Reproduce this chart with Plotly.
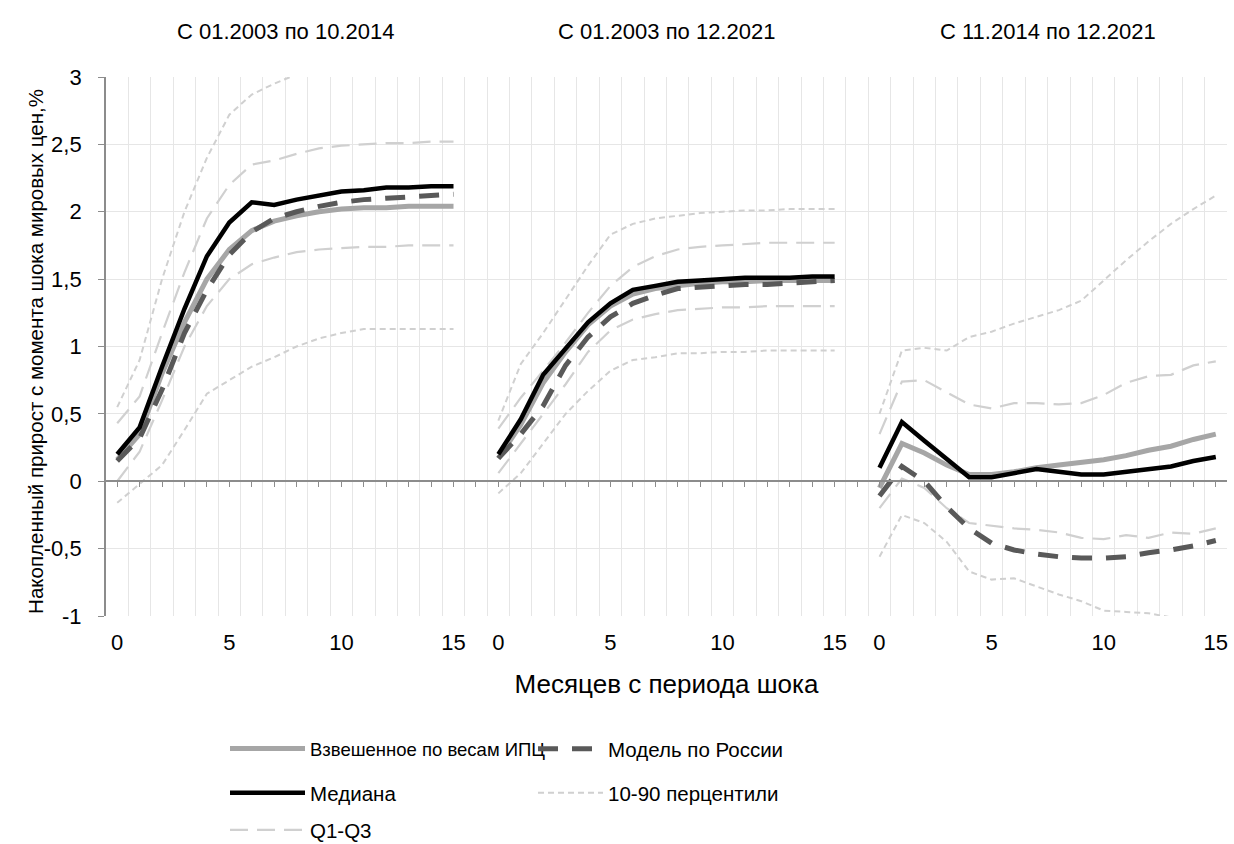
import plotly.graph_objects as go

FONT = "Liberation Sans, Arial, sans-serif"

months = list(range(16))
panel_titles = ["С 01.2003 по 10.2014", "С 01.2003 по 12.2021", "С 11.2014 по 12.2021"]
tick_labels = ["0", "5", "10", "15"]
y_ticks = [-1, -0.5, 0, 0.5, 1, 1.5, 2, 2.5, 3]
y_tick_labels = ["-1", "-0,5", "0", "0,5", "1", "1,5", "2", "2,5", "3"]

# Взвешенное по весам ИПЦ
weighted_p1 = [0.16, 0.35, 0.80, 1.18, 1.50, 1.72, 1.86, 1.93, 1.97, 2.00, 2.02, 2.03, 2.03, 2.04, 2.04, 2.04]
weighted_p2 = [0.17, 0.42, 0.73, 0.96, 1.16, 1.30, 1.39, 1.43, 1.45, 1.47, 1.48, 1.48, 1.49, 1.49, 1.49, 1.49]
weighted_p3 = [-0.05, 0.28, 0.21, 0.12, 0.05, 0.05, 0.07, 0.10, 0.12, 0.14, 0.16, 0.19, 0.23, 0.26, 0.31, 0.35]

# Модель по России
model_p1 = [0.15, 0.32, 0.68, 1.10, 1.42, 1.68, 1.85, 1.95, 2.00, 2.04, 2.07, 2.09, 2.10, 2.11, 2.12, 2.13]
model_p2 = [0.17, 0.35, 0.56, 0.86, 1.07, 1.22, 1.32, 1.38, 1.43, 1.44, 1.45, 1.46, 1.46, 1.47, 1.48, 1.49]
model_p3 = [-0.11, 0.11, 0.00, -0.19, -0.35, -0.46, -0.51, -0.54, -0.56, -0.57, -0.57, -0.56, -0.53, -0.51, -0.48, -0.44]

# Медиана
median_p1 = [0.20, 0.40, 0.85, 1.28, 1.67, 1.92, 2.07, 2.05, 2.09, 2.12, 2.15, 2.16, 2.18, 2.18, 2.19, 2.19]
median_p2 = [0.20, 0.46, 0.79, 0.98, 1.18, 1.32, 1.42, 1.45, 1.48, 1.49, 1.50, 1.51, 1.51, 1.51, 1.52, 1.52]
median_p3 = [0.10, 0.44, 0.30, 0.17, 0.03, 0.03, 0.06, 0.09, 0.07, 0.05, 0.05, 0.07, 0.09, 0.11, 0.15, 0.18]

# 10-90 перцентили
p10_p1 = [-0.16, -0.02, 0.12, 0.38, 0.65, 0.75, 0.85, 0.92, 1.00, 1.06, 1.10, 1.13, 1.13, 1.13, 1.13, 1.13]
p90_p1 = [0.55, 0.90, 1.50, 2.00, 2.40, 2.72, 2.87, 2.95, 3.02, 3.05, 3.07, 3.09, 3.10, 3.11, 3.12, 3.12]
p10_p2 = [-0.09, 0.06, 0.28, 0.50, 0.67, 0.82, 0.90, 0.92, 0.95, 0.95, 0.96, 0.96, 0.97, 0.97, 0.97, 0.97]
p90_p2 = [0.45, 0.87, 1.10, 1.35, 1.60, 1.83, 1.91, 1.95, 1.97, 1.99, 2.00, 2.01, 2.01, 2.02, 2.02, 2.02]
p10_p3 = [-0.56, -0.25, -0.31, -0.45, -0.67, -0.73, -0.72, -0.78, -0.84, -0.89, -0.96, -0.97, -0.98, -1.01, -1.05, -1.08]
p90_p3 = [0.50, 0.97, 0.99, 0.97, 1.07, 1.11, 1.17, 1.22, 1.27, 1.34, 1.49, 1.64, 1.78, 1.91, 2.02, 2.12]

# Q1-Q3
q1_p1 = [0.00, 0.22, 0.60, 1.00, 1.30, 1.50, 1.61, 1.66, 1.70, 1.72, 1.73, 1.74, 1.74, 1.75, 1.75, 1.75]
q3_p1 = [0.43, 0.63, 1.10, 1.55, 1.95, 2.20, 2.35, 2.38, 2.43, 2.47, 2.49, 2.50, 2.51, 2.51, 2.52, 2.52]
q1_p2 = [0.06, 0.28, 0.50, 0.72, 0.96, 1.12, 1.20, 1.24, 1.27, 1.28, 1.29, 1.29, 1.30, 1.30, 1.30, 1.30]
q3_p2 = [0.39, 0.62, 0.82, 1.03, 1.25, 1.45, 1.59, 1.67, 1.72, 1.74, 1.75, 1.76, 1.77, 1.77, 1.77, 1.77]
q1_p3 = [-0.20, 0.02, -0.05, -0.20, -0.31, -0.33, -0.35, -0.36, -0.38, -0.42, -0.43, -0.40, -0.42, -0.38, -0.39, -0.35]
q3_p3 = [0.35, 0.74, 0.75, 0.66, 0.57, 0.54, 0.58, 0.58, 0.57, 0.58, 0.64, 0.73, 0.78, 0.79, 0.86, 0.89]

STEP = 17  # categories per panel (16 months + one blank)


def join_panels(*panels):
    xs, ys = [], []
    for p, vals in enumerate(panels):
        if p:
            xs.append(None)
            ys.append(None)
        xs += [p * STEP + m for m in months]
        ys += list(vals)
    return xs, ys


LIGHT = "#d0d0d0"
series = [
    # name, panels, color, width, dash, legend, showlegend
    ("10-90 перцентили", [p90_p1, p90_p2, p90_p3], LIGHT, 2, "6px,4px", "legend4", True),
    ("10-90 перцентили", [p10_p1, p10_p2, p10_p3], LIGHT, 2, "6px,4px", "legend4", False),
    ("Q1-Q3", [q3_p1, q3_p2, q3_p3], LIGHT, 2.2, "18px,9px", "legend5", True),
    ("Q1-Q3", [q1_p1, q1_p2, q1_p3], LIGHT, 2.2, "18px,9px", "legend5", False),
    ("Взвешенное по весам ИПЦ", [weighted_p1, weighted_p2, weighted_p3], "#a6a6a6", 5, "solid", "legend", True),
    ("Модель по России", [model_p1, model_p2, model_p3], "#595959", 5, "20px,14px", "legend2", True),
    ("Медиана", [median_p1, median_p2, median_p3], "#000000", 4.5, "solid", "legend3", True),
]

fig = go.Figure()
for name, panels, color, width, dash, leg, show in series:
    xs, ys = join_panels(*panels)
    fig.add_trace(go.Scatter(
        x=xs, y=ys, mode="lines", name=name, legend=leg, showlegend=show,
        line=dict(color=color, width=width, dash=dash),
        connectgaps=False, hoverinfo="skip", cliponaxis=True,
    ))

# empty trace so the zero-line axis overlay (with its tick marks) is rendered
fig.add_trace(go.Scatter(x=[None], y=[None], xaxis="x2", yaxis="y", showlegend=False))

tickvals = [p * STEP + int(t) for p in range(3) for t in tick_labels]
ticktext = tick_labels * 3
X0, X1 = -0.5, 3 * STEP - 1.5
AXIS_GREY = "#8c8c8c"
NBSP = "\u00a0"
y_text_padded = [t + NBSP * 2 for t in y_tick_labels]

fig.update_layout(
    template="none",
    width=1234, height=844,
    margin=dict(l=106, r=7, t=77, b=228, autoexpand=False),
    paper_bgcolor="white", plot_bgcolor="white",
    font=dict(family=FONT, size=20, color="#000000"),
    xaxis=dict(
        range=[X0, X1], tickmode="array", tickvals=tickvals, ticktext=ticktext,
        showgrid=False, zeroline=False, showline=False,
        ticks="outside", ticklen=7, tickcolor="rgba(0,0,0,0)", automargin=False,
        tickfont=dict(size=22),
        minor=dict(tickmode="array", tickvals=[k + 0.5 for k in range(-1, 50)],
                   showgrid=True, gridcolor="#e6e6e6", gridwidth=1, ticks=""),
        title=dict(text="Месяцев с периода шока", font=dict(size=26), standoff=20),
    ),
    xaxis2=dict(
        overlaying="x", anchor="free", position=0.25, side="bottom",
        range=[X0, X1], tickmode="linear", tick0=0, dtick=1,
        showline=True, linecolor=AXIS_GREY, linewidth=1.5,
        ticks="outside", ticklen=5, tickcolor=AXIS_GREY, tickwidth=1.3,
        showticklabels=False, showgrid=False, zeroline=False, automargin=False,
    ),
    yaxis=dict(
        range=[-1, 3], tickmode="array", tickvals=y_ticks, ticktext=y_text_padded,
        showgrid=True, gridcolor="#e6e6e6", gridwidth=1, zeroline=False,
        showline=True, linecolor=AXIS_GREY, linewidth=1.5,
        ticks="outside", ticklen=6, tickcolor=AXIS_GREY, tickwidth=1.3, automargin=False,
        tickfont=dict(size=22),
    ),
    showlegend=True,
)

for p, title in enumerate(panel_titles):
    fig.add_annotation(text=title, xref="x", yref="paper", x=p * STEP + 7.5, y=(616 - 32) / 539,
                       xanchor="center", yanchor="middle", showarrow=False, font=dict(size=22))

fig.add_annotation(text="Накопленный прирост с момента шока мировых цен,%", textangle=-90,
                   xref="paper", yref="paper", x=(36 - 106) / 1121, y=0.49,
                   xanchor="center", yanchor="middle", showarrow=False, font=dict(size=20.5))


def cx(px):
    return px / 1234


def cy(py):
    return (844 - py) / 844


def leg(x, y, width, size):
    return dict(orientation="h", xanchor="left", yanchor="middle", itemwidth=width,
                xref="container", yref="container", x=cx(x), y=cy(y),
                bgcolor="rgba(0,0,0,0)", font=dict(size=size), borderwidth=0)


fig.update_layout(
    legend=leg(225, 749, 75, 18.5),
    legend2=leg(533, 749, 65, 20.5),
    legend3=leg(225, 793, 75, 20.5),
    legend4=leg(533, 793, 65, 20.5),
    legend5=leg(225, 830, 75, 20.5),
)

fig.write_html("out.html")
